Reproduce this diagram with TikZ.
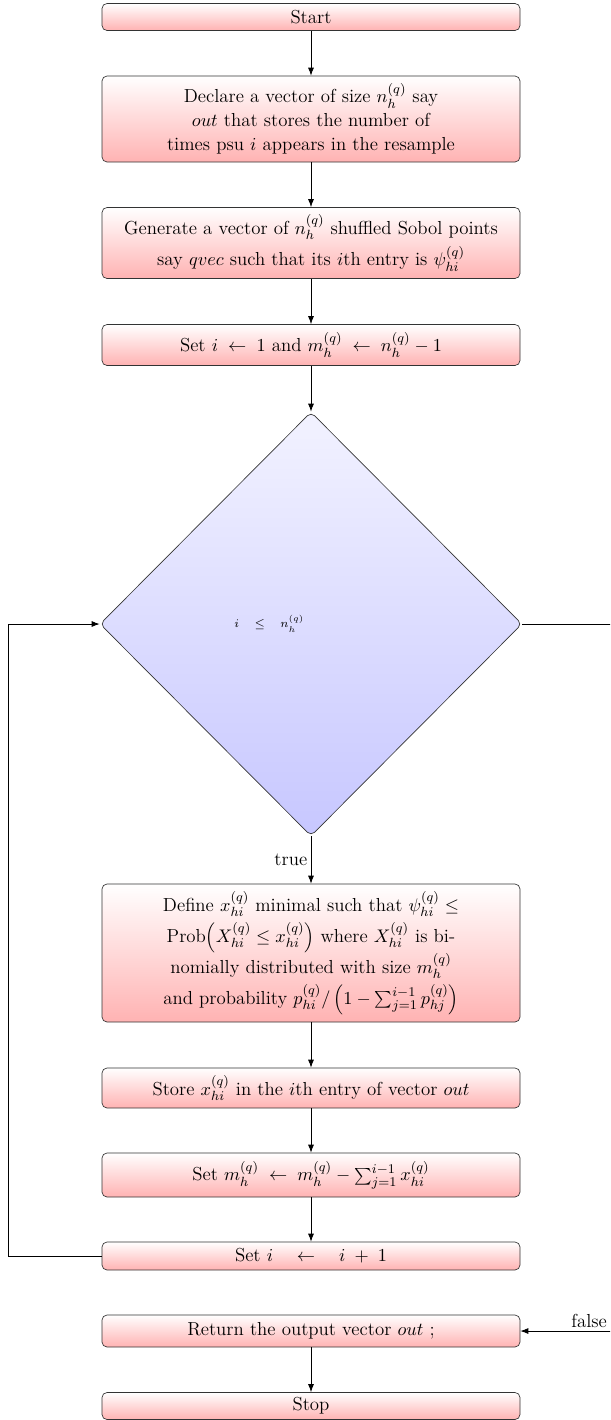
\documentclass[tikz,border=0pt]{standalone}
\usetikzlibrary{arrows.meta,shapes.geometric}
\newcommand{\bigtext}{\fontsize{11.3}{14.4}\selectfont}
\begin{document}
\begin{tikzpicture}[x=0.6pt,y=-0.6pt,
  procbox/.style={draw=black!80, rounded corners=3pt, top color=white, bottom color=red!30,
    minimum width=250.8pt, text width=242pt, inner xsep=4pt, inner ysep=2pt, align=flush center, font=\bigtext},
  decbox/.style={draw=black!80, diamond, rounded corners=3pt, top color=blue!5, bottom color=blue!22,
    minimum width=253.2pt, minimum height=254.4pt, inner sep=0pt, text width=92pt, align=left, font=\scriptsize},
  arr/.style={-{Latex[length=4.8pt,width=3.6pt]}, black, line width=0.5pt},
  lbl/.style={font=\bigtext, inner sep=2pt}]
\clip (0,0) rectangle (610,1420);
\node[procbox, minimum height=16.2pt] (start) at (311,17) {Start};
\node[procbox, minimum height=51.6pt] (decl) at (311,119) {Declare a vector of size $n_h^{(q)}$ say\\ $out$ that stores the number of\\ times psu $i$ appears in the resample};
\node[procbox, minimum height=42.6pt] (gen) at (311,243) {Generate a vector of $n_h^{(q)}$ shuffled Sobol points\\[3pt] say $qvec$ such that its $i$th entry is $\psi_{hi}^{(q)}$};
\node[procbox, minimum height=24.6pt] (init) at (311,345) {Set $i \;\leftarrow\; 1$ and $m_h^{(q)} \;\leftarrow\; n_h^{(q)}-1$};
\node[decbox] (dec) at (311,624) {$i \quad\leq\quad n_h^{(q)}$};
\node[procbox, minimum height=82.8pt, font=\fontsize{11.3}{18.6}\selectfont] (def) at (311,953) {Define $x_{hi}^{(q)}$ minimal such that $\psi_{hi}^{(q)} \leq$\\ Prob$\left(X_{hi}^{(q)} \leq x_{hi}^{(q)}\right)$ where $X_{hi}^{(q)}$ is bi-\\ nomially distributed with size $m_h^{(q)}$\\ and probability $p_{hi}^{(q)}/\left(1-\sum_{j=1}^{i-1}p_{hj}^{(q)}\right)$};
\node[procbox, minimum height=24pt] (store) at (311,1088) {Store $x_{hi}^{(q)}$ in the $i$th entry of vector $out$};
\node[procbox, minimum height=26.4pt] (upd) at (311,1175) {Set $m_h^{(q)} \;\leftarrow\; m_h^{(q)} - \sum_{j=1}^{i-1} x_{hi}^{(q)}$};
\node[procbox, minimum height=16.8pt] (inc) at (311,1256) {Set $i \quad\leftarrow\quad i \;+\; 1$};
\node[procbox, minimum height=19.2pt] (ret) at (311,1331) {Return the output vector $out$ ;};
\node[procbox, minimum height=16.2pt] (stop) at (311,1406) {Stop};
\coordinate (lx) at (8,0);
\coordinate (rx) at (658,0);
\draw[arr] (start) -- (decl);
\draw[arr] (decl) -- (gen);
\draw[arr] (gen) -- (init);
\draw[arr] (init) -- (dec);
\draw[arr] (dec) -- node[lbl, left] {true} (def);
\draw[arr] (def) -- (store);
\draw[arr] (store) -- (upd);
\draw[arr] (upd) -- (inc);
\draw[arr] (inc.west) -- (inc.west -| lx) |- (dec.west);
\draw[arr] (dec.east) -- (dec.east -| rx) |- node[lbl, pos=0.75, above] {false} (ret.east);
\draw[arr] (ret) -- (stop);
\end{tikzpicture}
\end{document}
